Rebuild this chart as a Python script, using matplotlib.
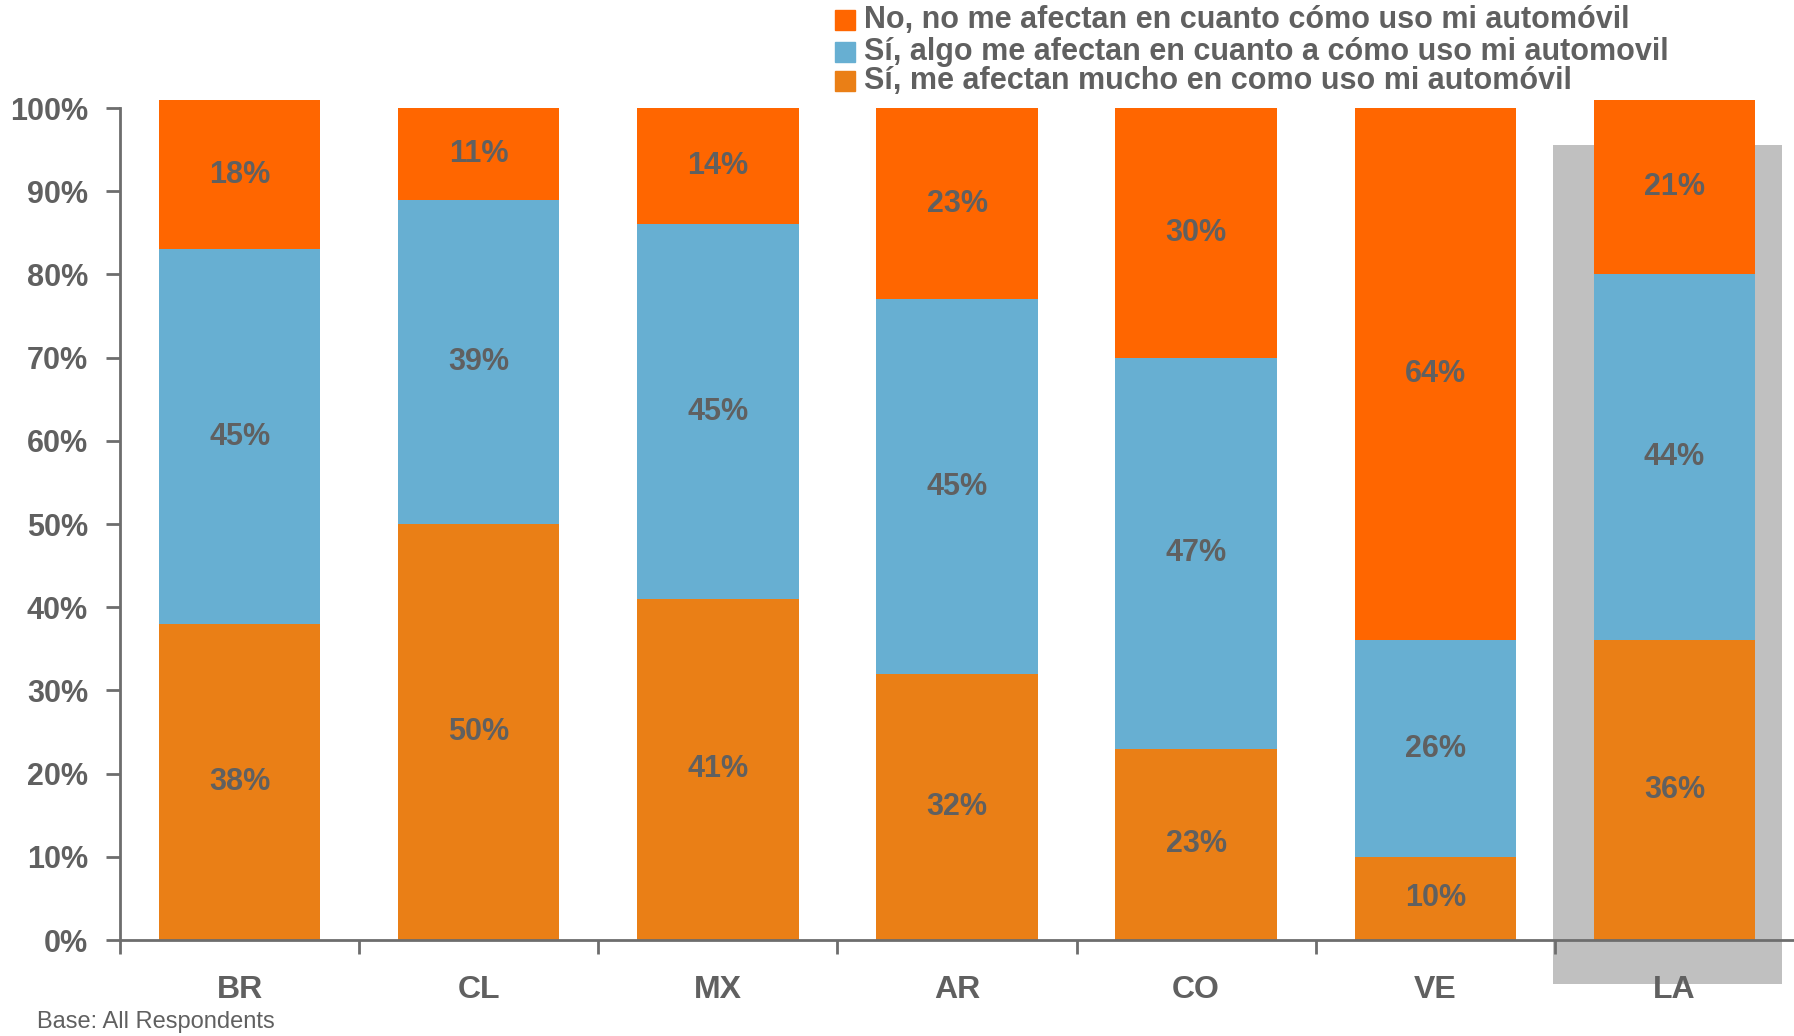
import matplotlib.pyplot as plt
from matplotlib.patches import Rectangle

# datos
paises = ['BR', 'CL', 'MX', 'AR', 'CO', 'VE', 'LA']
mucho = [38, 50, 41, 32, 23, 10, 36]
algo = [45, 39, 45, 45, 47, 26, 44]
no_afecta = [18, 11, 14, 23, 30, 64, 21]
leyenda = ['No, no me afectan en cuanto cómo uso mi automóvil',
           'Sí, algo me afectan en cuanto a cómo uso mi automovil',
           'Sí, me afectan mucho en como uso mi automóvil']

c_mucho = '#EA7F16'
c_algo = '#67AFD2'
c_no = '#FF6600'
gris = '#606060'

plt.rcParams['font.family'] = ['Liberation Sans', 'DejaVu Sans']

fig = plt.figure(figsize=(17.94, 10.36), dpi=100)
ax = fig.add_axes([120/1794, 96/1036, 1674/1794, 832/1036])

x = [i + 0.5 for i in range(len(paises))]
w = 0.675

# fondo gris de LA
ax.add_patch(Rectangle((5.993, -5.3), 0.957, 100.8, color='#C0C0C0',
                       zorder=0, clip_on=False, lw=0))

ax.bar(x, mucho, w, color=c_mucho, zorder=2, clip_on=False)
ax.bar(x, algo, w, bottom=mucho, color=c_algo, zorder=2, clip_on=False)
base3 = [a + b for a, b in zip(mucho, algo)]
ax.bar(x, no_afecta, w, bottom=base3, color=c_no, zorder=2, clip_on=False)

for i in range(len(paises)):
    for v, b in [(mucho[i], 0), (algo[i], mucho[i]), (no_afecta[i], base3[i])]:
        ax.text(x[i], b + v / 2, f'{v}%', ha='center', va='center',
                fontsize=22, fontweight='bold', color=gris, zorder=3)

ax.set_xlim(0, 7)
ax.set_ylim(0, 100)
ax.set_yticks(range(0, 101, 10))
ax.set_yticklabels([f'{t}%' for t in range(0, 101, 10)], fontsize=22,
                   fontweight='bold', color=gris)
ax.set_xticks(range(0, 7))
ax.set_xticklabels([])
ax.set_xticks(x, minor=True)
ax.set_xticklabels(paises, minor=True, fontsize=23, fontweight='bold', color=gris)
ax.tick_params(axis='x', which='minor', length=0, pad=25)
ax.tick_params(axis='x', which='major', length=10, width=2, color='#6D6D6D', direction='out')
ax.tick_params(axis='y', length=10, width=2, color='#6D6D6D', direction='out', pad=13)
for s in ['top', 'right']:
    ax.spines[s].set_visible(False)
for s in ['left', 'bottom']:
    ax.spines[s].set_color('#6D6D6D')
    ax.spines[s].set_linewidth(2)
    ax.spines[s].set_zorder(4)

# leyenda
cols = [c_no, c_algo, c_mucho]
ys = [20, 52, 81]
for lab, col, yy in zip(leyenda, cols, ys):
    fig.patches.append(Rectangle((835/1794, 1 - (yy + 10)/1036), 20/1794, 20/1036,
                                 color=col, transform=fig.transFigure))
    fig.text(864/1794, 1 - yy/1036, lab, fontsize=22, fontweight='bold',
             color=gris, va='center', ha='left')

fig.text(37/1794, 1 - 1022/1036, 'Base: All Respondents', fontsize=17,
         color=gris, va='center', ha='left')

fig.savefig('out.png', dpi=100)
